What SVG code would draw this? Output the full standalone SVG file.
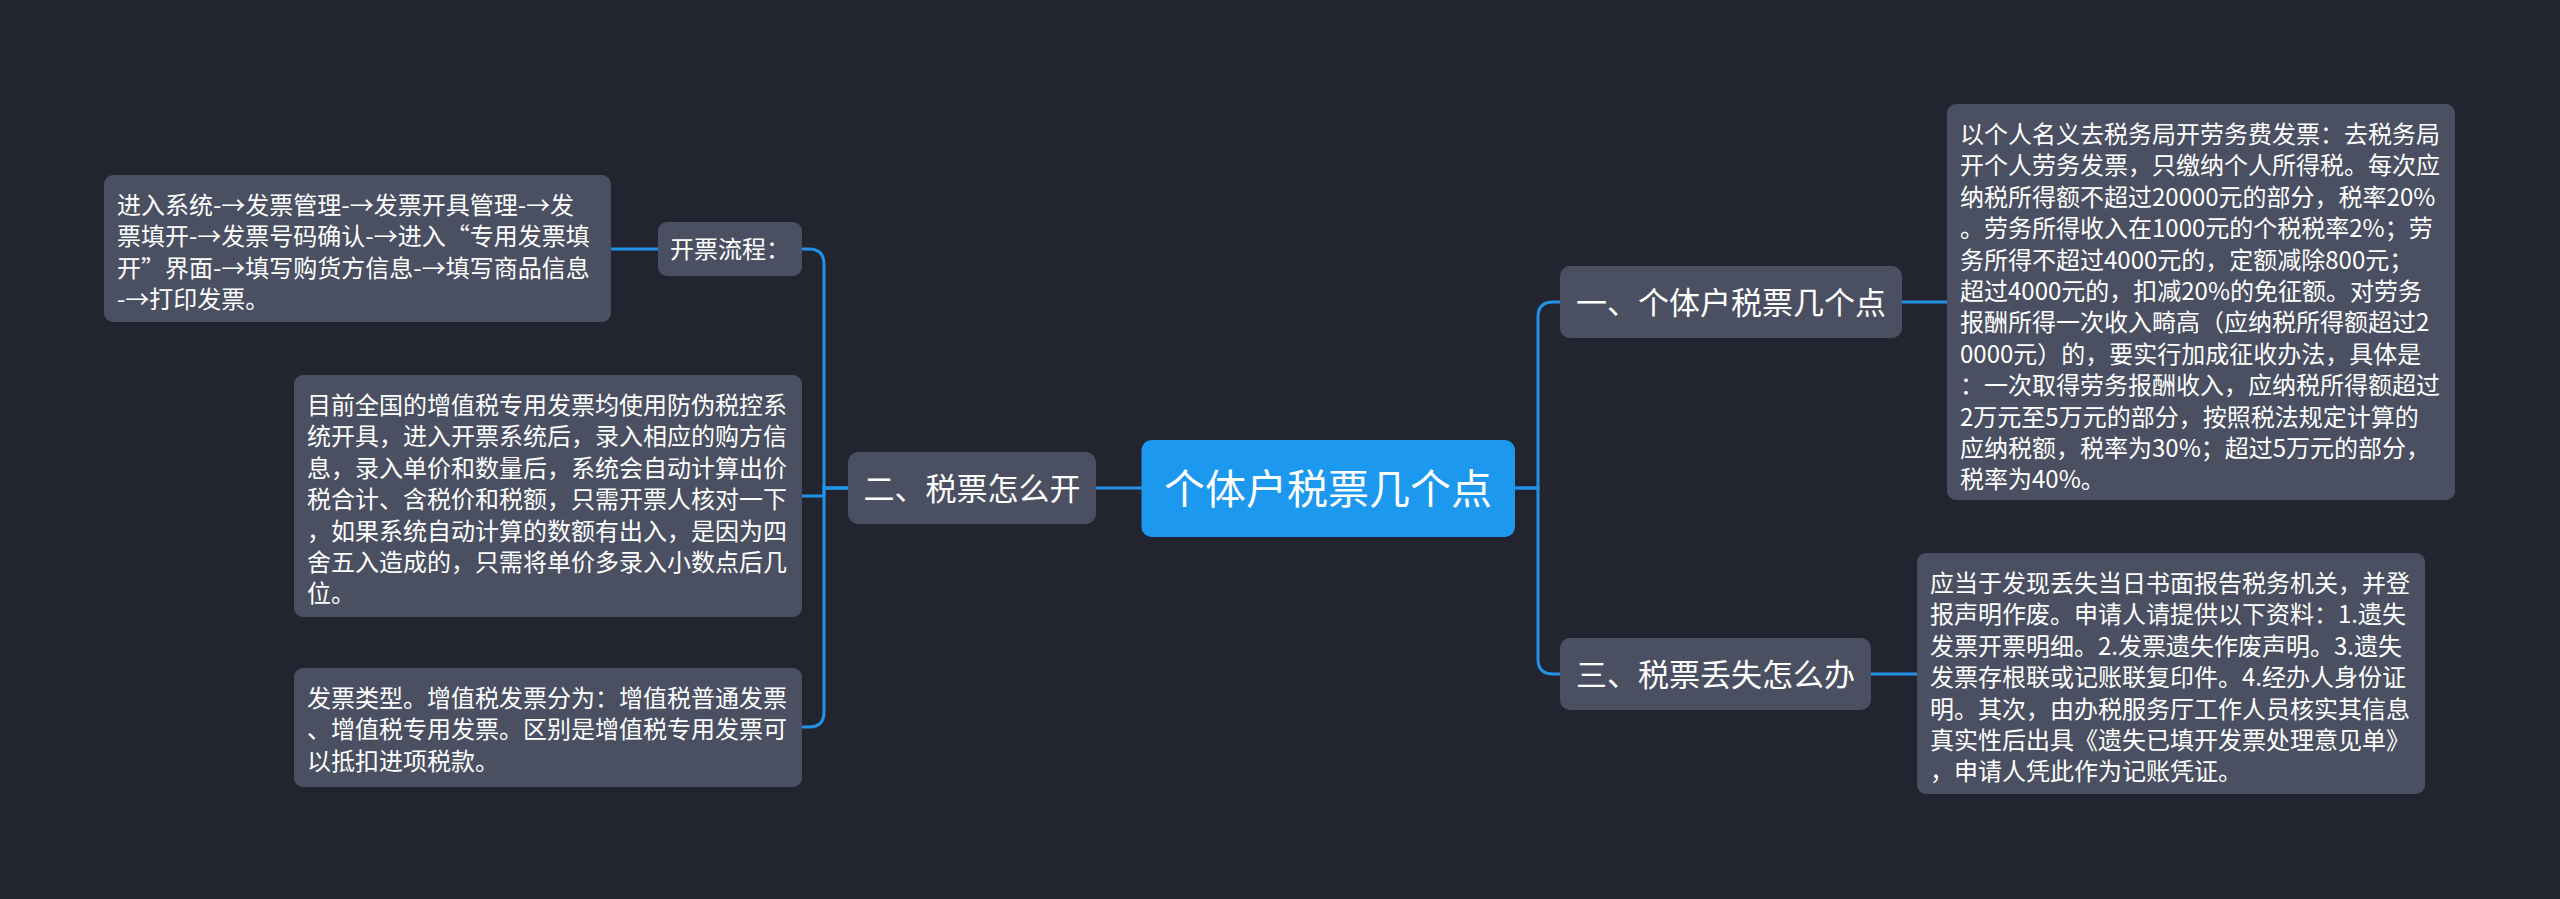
<svg xmlns="http://www.w3.org/2000/svg" width="2560" height="899" viewBox="0 0 2560 899">
<style>
.bg{fill:#22252f}
.box{fill:#4a5061}
.root{fill:#1d98ef}
.t{font-family:"Noto Sans CJK SC","Noto Sans",sans-serif;fill:#ffffff}
.leaf{font-size:24px}
.l1{font-size:31px;text-anchor:middle}
.rt{font-size:41px;text-anchor:middle}
.c{fill:none;stroke:#2292e8;stroke-width:3}
</style>
<rect class="bg" x="0" y="0" width="2560" height="899"/>
<g id="connectors">
<path class="c" d="M1142 488 H1096"/>
<path class="c" d="M848 488 H824 V264 Q824 249 809 249 H802"/>
<path class="c" d="M848 488 H824 V496 H802"/>
<path class="c" d="M848 488 H824 V712 Q824 727 809 727 H802"/>
<path class="c" d="M658 249 H611"/>
<path class="c" d="M1515 488 H1538 V317 Q1538 302 1553 302 H1560"/>
<path class="c" d="M1515 488 H1538 V659 Q1538 674 1553 674 H1560"/>
<path class="c" d="M1902 302 H1947"/>
<path class="c" d="M1871 674 H1917"/>
</g>
<g id="root">
<rect class="root" x="1141.5" y="440" width="373.5" height="97" rx="10"/>
<text class="t rt" x="1328" y="504">个体户税票几个点</text>
</g>
<g id="n2">
<rect class="box" x="848" y="452" width="248" height="72" rx="10"/>
<text class="t l1" x="972" y="500">二、税票怎么开</text>
</g>
<g id="n2a">
<rect class="box" x="658" y="222" width="144" height="54" rx="9"/>
<text class="t leaf" x="670" y="258">开票流程：</text>
</g>
<g id="n2a1">
<rect class="box" x="104" y="175" width="507" height="147" rx="9"/>
<text class="t leaf" x="117" y="214">进入系统-→发票管理-→发票开具管理-→发</text>
<text class="t leaf" x="117" y="245.4">票填开-→发票号码确认-→进入“专用发票填</text>
<text class="t leaf" x="117" y="276.8">开”界面-→填写购货方信息-→填写商品信息</text>
<text class="t leaf" x="117" y="308.2">-→打印发票。</text>
</g>
<g id="n2b">
<rect class="box" x="294" y="375" width="508" height="242" rx="9"/>
<text class="t leaf" x="307" y="414">目前全国的增值税专用发票均使用防伪税控系</text>
<text class="t leaf" x="307" y="445.4">统开具，进入开票系统后，录入相应的购方信</text>
<text class="t leaf" x="307" y="476.8">息，录入单价和数量后，系统会自动计算出价</text>
<text class="t leaf" x="307" y="508.2">税合计、含税价和税额，只需开票人核对一下</text>
<text class="t leaf" x="307" y="539.6">，如果系统自动计算的数额有出入，是因为四</text>
<text class="t leaf" x="307" y="571">舍五入造成的，只需将单价多录入小数点后几</text>
<text class="t leaf" x="307" y="602.4">位。</text>
</g>
<g id="n2c">
<rect class="box" x="294" y="668" width="508" height="119" rx="9"/>
<text class="t leaf" x="307" y="707">发票类型。增值税发票分为：增值税普通发票</text>
<text class="t leaf" x="307" y="738.4">、增值税专用发票。区别是增值税专用发票可</text>
<text class="t leaf" x="307" y="769.8">以抵扣进项税款。</text>
</g>
<g id="n1">
<rect class="box" x="1560" y="266" width="342" height="72" rx="10"/>
<text class="t l1" x="1731" y="314">一、个体户税票几个点</text>
</g>
<g id="n1a">
<rect class="box" x="1947" y="104" width="508" height="396" rx="9"/>
<text class="t leaf" x="1960" y="143">以个人名义去税务局开劳务费发票：去税务局</text>
<text class="t leaf" x="1960" y="174.4">开个人劳务发票，只缴纳个人所得税。每次应</text>
<text class="t leaf" x="1960" y="205.8">纳税所得额不超过20000元的部分，税率20%</text>
<text class="t leaf" x="1960" y="237.2">。劳务所得收入在1000元的个税税率2%；劳</text>
<text class="t leaf" x="1960" y="268.6">务所得不超过4000元的，定额减除800元；</text>
<text class="t leaf" x="1960" y="300">超过4000元的，扣减20%的免征额。对劳务</text>
<text class="t leaf" x="1960" y="331.4">报酬所得一次收入畸高（应纳税所得额超过2</text>
<text class="t leaf" x="1960" y="362.8">0000元）的，要实行加成征收办法，具体是</text>
<text class="t leaf" x="1960" y="394.2">：一次取得劳务报酬收入，应纳税所得额超过</text>
<text class="t leaf" x="1960" y="425.6">2万元至5万元的部分，按照税法规定计算的</text>
<text class="t leaf" x="1960" y="457">应纳税额，税率为30%；超过5万元的部分，</text>
<text class="t leaf" x="1960" y="488.4">税率为40%。</text>
</g>
<g id="n3">
<rect class="box" x="1560" y="638" width="311" height="72" rx="10"/>
<text class="t l1" x="1715.5" y="686">三、税票丢失怎么办</text>
</g>
<g id="n3a">
<rect class="box" x="1917" y="553" width="508" height="241" rx="9"/>
<text class="t leaf" x="1930" y="592">应当于发现丢失当日书面报告税务机关，并登</text>
<text class="t leaf" x="1930" y="623.4">报声明作废。申请人请提供以下资料：1.遗失</text>
<text class="t leaf" x="1930" y="654.8">发票开票明细。2.发票遗失作废声明。3.遗失</text>
<text class="t leaf" x="1930" y="686.2">发票存根联或记账联复印件。4.经办人身份证</text>
<text class="t leaf" x="1930" y="717.6">明。其次，由办税服务厅工作人员核实其信息</text>
<text class="t leaf" x="1930" y="749">真实性后出具《遗失已填开发票处理意见单》</text>
<text class="t leaf" x="1930" y="780.4">，申请人凭此作为记账凭证。</text>
</g>
</svg>
